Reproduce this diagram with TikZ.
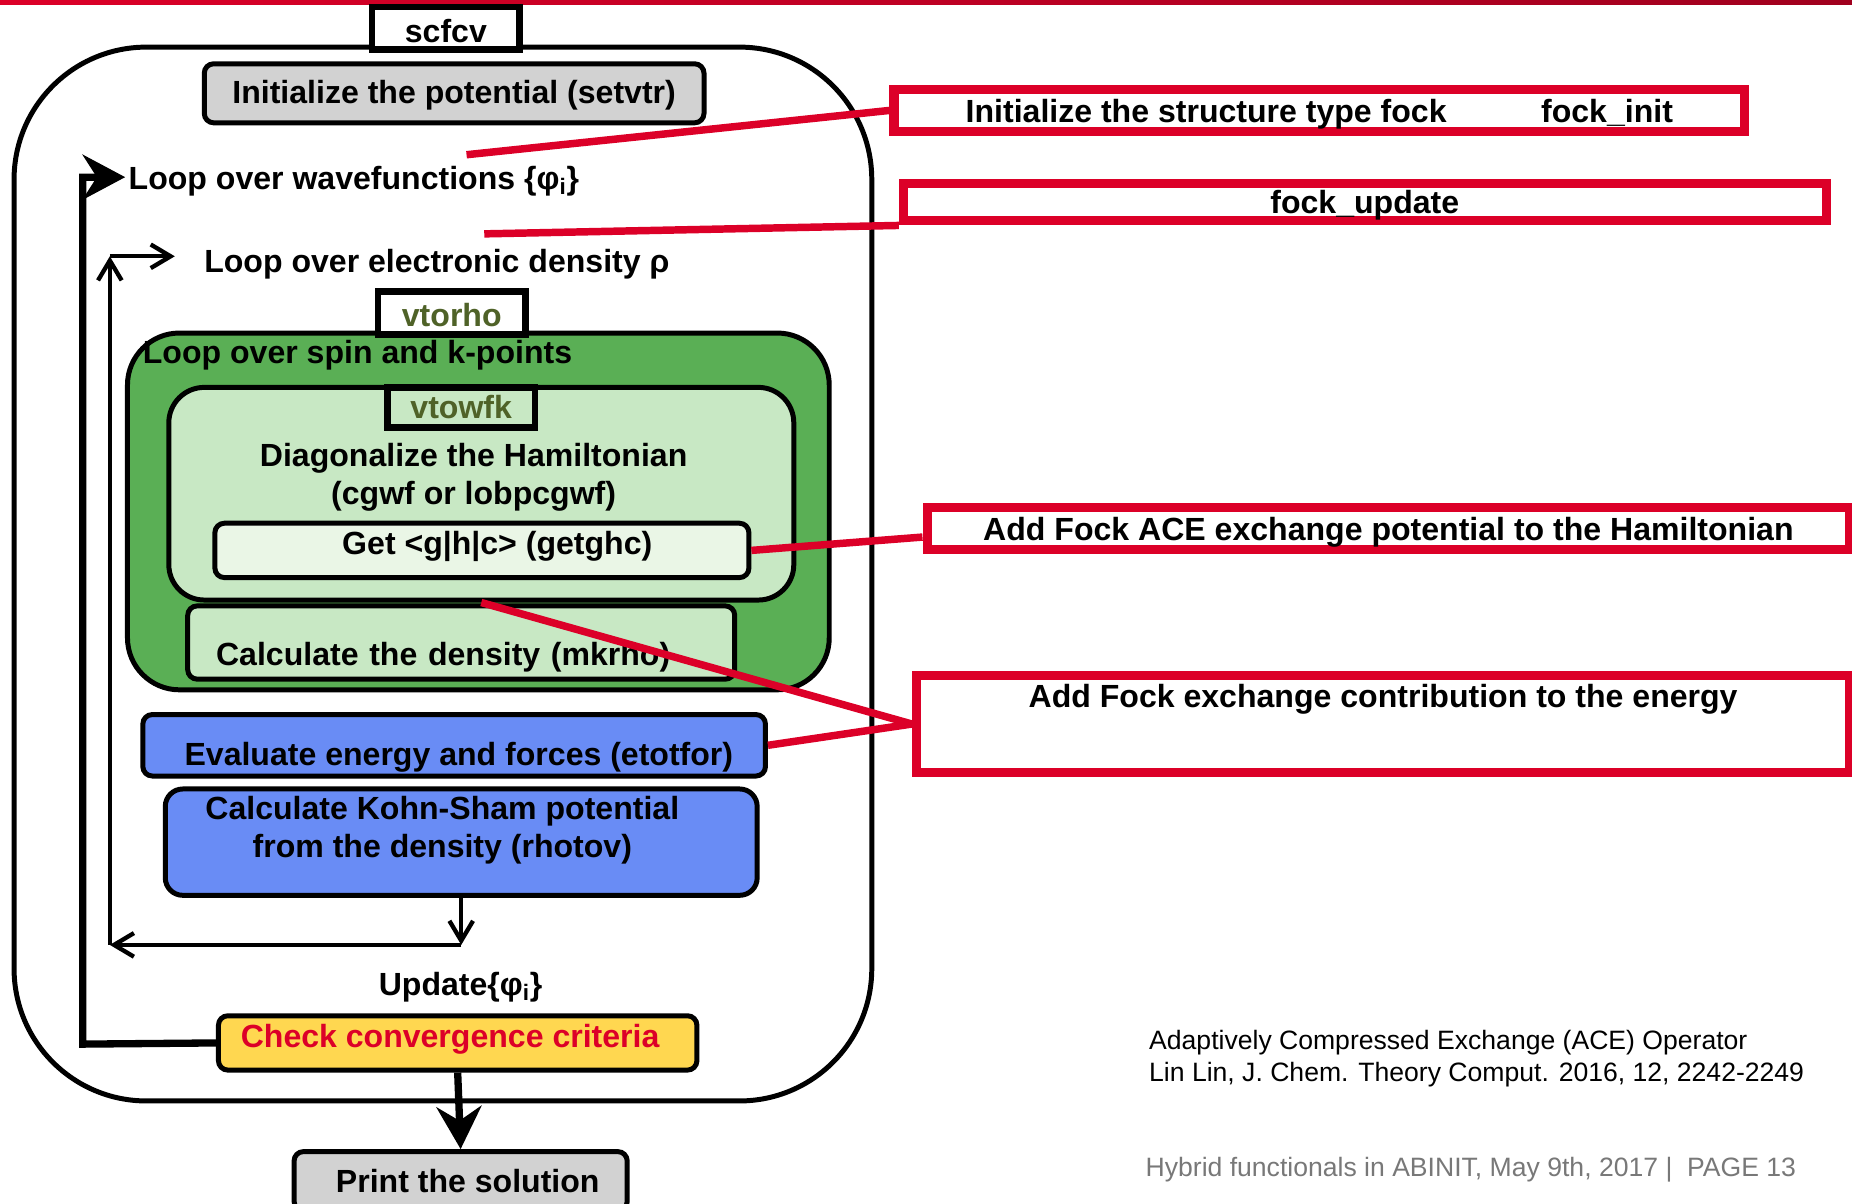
\documentclass[tikz,border=0pt]{standalone}
\usepackage{fontspec}
\setmainfont{Liberation Sans}
\usetikzlibrary{arrows.meta}
\definecolor{abired}{RGB}{220,0,40}
\definecolor{abidarkred}{RGB}{160,0,30}
\definecolor{spingreen}{RGB}{90,175,85}
\definecolor{wfkgreen}{RGB}{200,232,196}
\definecolor{ghcgreen}{RGB}{234,246,230}
\definecolor{etotblue}{RGB}{105,140,245}
\definecolor{checkyellow}{RGB}{255,215,80}
\definecolor{boxgray}{RGB}{210,210,210}
\definecolor{olivetext}{RGB}{79,98,40}
\definecolor{footgray}{RGB}{120,120,120}
\newcommand{\nudge}[2]{\raisebox{#1}[\height][\depth]{#2}}

\begin{document}
\begin{tikzpicture}[
    x=0.025cm, y=-0.025cm,
    every node/.style={font=\fontsize{19.3}{23}\selectfont\bfseries},
    box/.style={draw, line width=3pt, rounded corners=0.2cm, inner sep=0pt},
    tag/.style={draw, line width=4pt, fill=white, minimum width=3.125cm,
                text=olivetext, inner sep=0pt},
    fockbox/.style={draw=abired, line width=5.5pt, fill=white, inner sep=0pt},
    redline/.style={draw=abired, line width=4.5pt},
    loopline/.style={line width=2.6pt, -{Straight Barb[length=0.42cm,width=0.5cm]}},
    bigarrow/.style={line width=4.4pt, -{Stealth[length=0.9cm,width=0.95cm,inset=0.3cm]}},
    reftext/.style={font=\fontsize{16}{19.2}\selectfont, align=left, anchor=west}
]
\useasboundingbox (0,0) rectangle (1568,1019);
\fill[left color=abired, right color=abidarkred] (0,0) rectangle (1568,4);

% scfcv frame
\node[draw, line width=3pt, rounded corners=2.8cm, minimum width=18.15cm,
      minimum height=22.3cm] (frame) at (375,486) {};
\node[tag, text=black, minimum height=0.9cm] (scfcv) at (377.5,24) {\nudge{-0.05cm}{scfcv}};
\node[box, fill=boxgray, minimum width=10.575cm, minimum height=1.25cm] (setvtr)
    at (384.5,79) {\nudge{-0.04cm}{Initialize the potential (setvtr)}};
\node[anchor=west] (wfloop) at (104,153) {Loop over wavefunctions \{φ\textsubscript{i}\}};
\node[anchor=west] (rholoop) at (168,224) {Loop over electronic density ρ};

% vtorho
\node[box, fill=spingreen, rounded corners=1.1cm, minimum width=14.85cm,
      minimum height=7.55cm] (spin) at (405,433) {};
\node[tag, minimum height=0.9cm] (vtorho) at (382.5,265) {\nudge{-0.04cm}{vtorho}};
\node[anchor=west] (spintext) at (116,301) {Loop over spin and k-points};
\node[box, fill=wfkgreen, rounded corners=0.75cm, minimum width=13.225cm,
      minimum height=4.5cm] (wfk) at (407.5,418) {};
\node[tag, fill=wfkgreen, minimum height=0.85cm] (vtowfk) at (390.5,345) {vtowfk};
\node[align=center] (diag) at (401,404) {Diagonalize the Hamiltonian\\(cgwf or lobpcgwf)};
\node[box, fill=ghcgreen, minimum width=11.3cm, minimum height=1.15cm] (ghc)
    at (408,466) {\hspace*{0.65cm}\nudge{0.08cm}{Get <g|h|c> (getghc)}};
\node[box, fill=wfkgreen, minimum width=11.575cm, minimum height=1.55cm,
      text width=10.375cm, align=left] (mkrho)
    at (390.5,544) {\nudge{-0.3cm}{Calculate the density (mkrho)}};

\node[box, fill=etotblue, minimum width=13.175cm, minimum height=1.3cm] (etot)
    at (384.5,631) {\hspace*{0.2cm}\nudge{-0.25cm}{Evaluate energy and forces (etotfor)}};
\node[box, fill=etotblue, rounded corners=0.37cm, minimum width=12.525cm,
      minimum height=2.25cm, align=center] (rhotov) at (390.5,713)
    {\hspace*{-0.8cm}\nudge{0.25cm}{Calculate Kohn-Sham potential}\\
     \hspace*{-0.8cm}\nudge{0.25cm}{from the density (rhotov)}};
\node (update) at (390,836) {Update\{φ\textsubscript{i}\}};
\node[box, fill=checkyellow, minimum width=10.125cm, minimum height=1.15cm,
      text=abired] (check) at (387.5,883)
    {\hspace*{-0.32cm}\nudge{0.08cm}{Check convergence criteria}};
\node[box, fill=boxgray, minimum width=7.05cm, minimum height=1.25cm] (print)
    at (390,1000) {\hspace*{0.3cm}Print the solution};

% fock routines
\node[fockbox, minimum width=18cm, minimum height=0.875cm] (fockinit)
    at (1117,93.5) {\nudge{-0.07cm}{Initialize the structure type fock\hspace{2cm}fock\_init}};
\node[fockbox, minimum width=19.525cm, minimum height=0.8cm] (fockupd)
    at (1155.5,171) {\nudge{-0.07cm}{fock\_update}};
\node[fockbox, minimum width=19.525cm, minimum height=0.875cm] (ace)
    at (1175.5,447.5) {\nudge{-0.07cm}{Add Fock ACE exchange potential to the Hamiltonian}};
\node[fockbox, minimum width=19.75cm, minimum height=2.05cm] (exch)
    at (1171,613) {\nudge{0.53cm}{Add Fock exchange contribution to the energy}};

\node[reftext] (ref) at (968,896) {Adaptively Compressed Exchange (ACE) Operator\\
    Lin Lin, J. Chem. Theory Comput. 2016, 12, 2242-2249};
\node[reftext, text=footgray] (footer) at (965,990)
    {Hybrid functionals in ABINIT, May 9th, 2017 |\ \ PAGE 13};

% red links
\coordinate (wfend) at (395,131);
\coordinate (rhoend) at (410,198);
\draw[redline] (wfend) -- (fockinit.west);
\draw[redline] (rhoend) -- (fockupd.south west);
\draw[redline] (ghc.east) -- ([yshift=-0.18cm]ace.west);
\draw[redline] (wfk.south) -- (exch.west);
\draw[redline] (etot.east) -- (exch.west);

% loops
\coordinate (outbl) at (70,884);
\coordinate (outtl) at (70,150);
\draw[bigarrow] (check.west) -- (outbl) -- (outtl) -- (106,150);
\coordinate (kspt) at (390.5,800);
\coordinate (inbl) at (93,800);
\coordinate (intl) at (93,217);
\coordinate (inhr) at (148,217);
\draw[loopline] (rhotov.south) -- (kspt);
\draw[loopline] (kspt) -- (inbl);
\draw[loopline] (inbl) -- (intl);
\draw[loopline] (intl) -- (inhr);
\draw[bigarrow] (check.south) -- (print.north);
\end{tikzpicture}
\end{document}
